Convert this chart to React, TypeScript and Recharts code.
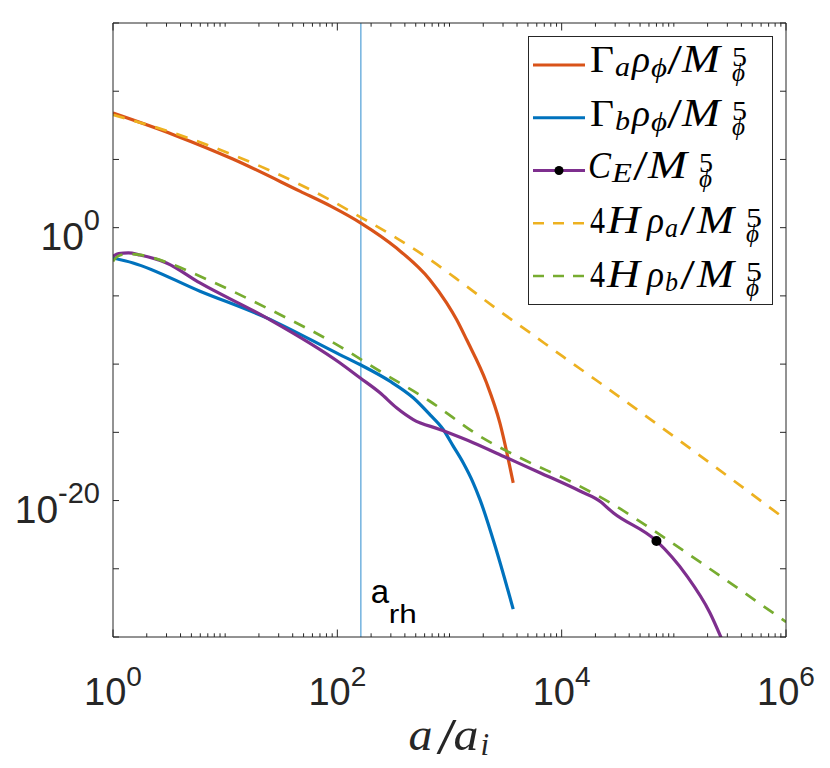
import React from "react";
import {
  ComposedChart,
  Line,
  XAxis,
  YAxis,
  ReferenceLine,
  ReferenceDot,
  Legend,
} from "recharts";

// Γ_a ρ_φ / M^5  (orange, solid)
const gammaAX = [1, 3.5, 11.7, 46.8, 89, 162, 337, 668, 942, 1156, 1420, 2138, 2812, 3698];
const gammaAY = [2.5e8, 6.3e6, 1.07e5, 457, 35, 2.19, 0.032, 1.55e-4, 3.1e-6, 1.86e-7, 6.3e-9, 4.3e-12, 5.0e-15, 2.0e-19];

// Γ_b ρ_φ / M^5  (blue, solid)
const gammaBX = [1, 1.51, 5.96, 23.4, 105, 159, 294, 475, 668, 879, 1079, 1324, 1626, 1866, 2630, 3698];
const gammaBY = [6.0e-3, 2.6e-3, 2.2e-5, 2.45e-7, 5.0e-10, 9.3e-11, 5.6e-12, 3.4e-13, 2.0e-14, 1.62e-15, 9.8e-17, 5.9e-18, 2.0e-19, 1.23e-20, 2.0e-24, 1.1e-28];

// C_E / M^5  (purple, solid)
const ceX = [1, 1.12, 1.37, 1.74, 3.0, 5.96, 23.4, 105, 159, 240, 337, 475, 820, 1626, 3228, 6397, 14520, 22400, 26300, 28800, 70000, 130000, 209000, 282000];
const ceY = [7.9e-3, 0.0126, 0.0141, 0.01, 2.6e-3, 8.9e-5, 2.45e-7, 1.26e-10, 1e-11, 7.9e-13, 6.3e-14, 8.7e-15, 1.62e-15, 1.74e-16, 1.38e-17, 1.1e-18, 5.0e-20, 7.9e-21, 2.4e-21, 1.3e-21, 1.1e-23, 3.16e-26, 6.3e-29, 2.5e-31];

// 4 H ρ_a / M^5  (yellow, dashed)
const rhoAX = [1, 3.5, 11.7, 46.8, 89, 162, 337, 668, 1318, 2630, 5212, 10300, 20500, 1e5, 1e6];
const rhoAY = [1.86e8, 8.5e6, 2.19e5, 1413, 93, 5.75, 0.174, 4.6e-3, 7.9e-5, 1.12e-6, 2.0e-8, 3.5e-10, 6.3e-12, 5.0e-16, 4.0e-22];

// 4 H ρ_b / M^5  (green, dashed)
const rhoBX = [1, 1.1, 1.32, 1.74, 3.16, 5.96, 23.4, 105, 240, 668, 1866, 4236, 12680, 26900, 75000, 209000, 1e6];
const rhoBY = [3.4e-3, 7.9e-3, 0.0117, 0.01, 2.5e-3, 2.75e-4, 1.32e-6, 2.0e-9, 3.0e-11, 1.9e-13, 5.2e-16, 1.38e-17, 2.0e-19, 7.1e-21, 3.16e-23, 1e-25, 1.26e-29];

// reheating scale and the marked point on C_E
const aRh = 162;
const markA = 70000;
const markC = 1.1e-23;

// axes
const xDecades = [1, 10, 100, 1e3, 1e4, 1e5, 1e6];
const xMinor = [2, 3, 4, 5, 6, 7, 8, 9];
const xLabelled = [1, 1e2, 1e4, 1e6];
const yTicks = [1e-30, 1e-25, 1e-20, 1e-15, 1e-10, 1e-5, 1, 1e5, 1e10, 1e15];
const yLabelled = [1e-20, 1];

const xTicks = xDecades.flatMap((d, i) =>
  i === xDecades.length - 1 ? [d] : [d, ...xMinor.map((m) => m * d)]
);

const toPoints = (xs: number[], ys: number[]) => xs.map((a, i) => ({ a, v: ys[i] }));

const ORANGE = "#D95319";
const BLUE = "#0072BD";
const PURPLE = "#7E2F8E";
const YELLOW = "#EDB120";
const GREEN = "#77AC30";
const VLINE = "#72B2DF";
const AXIS = "#262626";
const DASH = "12 10";

const sans = "'Liberation Sans', Arial, Helvetica, sans-serif";
const serif = "'Liberation Serif', 'DejaVu Serif', 'Times New Roman', serif";

const isIn = (list: number[], v: number) => list.some((l) => Math.abs(l - v) / l < 1e-9);
const expOf = (v: number) => Math.round(Math.log10(v));

const BottomTick = (props: any) => {
  const { x, y, payload } = props;
  const v = payload.value as number;
  const major = isIn(xLabelled, v);
  return (
    <g>
      <line x1={x} x2={x} y1={y} y2={y - (major ? 7.5 : 3.7)} stroke={AXIS} strokeWidth={1} />
      {major && (
        <text x={x} y={y + 68} textAnchor="middle" fill={AXIS} fontFamily={sans} fontSize={38}>
          10
          <tspan dy={-19} fontSize={28}>
            {expOf(v)}
          </tspan>
        </text>
      )}
    </g>
  );
};

const TopTick = (props: any) => {
  const { x, y, payload } = props;
  const major = isIn(xLabelled, payload.value);
  return <line x1={x} x2={x} y1={y} y2={y + (major ? 7.5 : 3.7)} stroke={AXIS} strokeWidth={1} />;
};

const LeftTick = (props: any) => {
  const { x, y, payload } = props;
  const v = payload.value as number;
  return (
    <g>
      <line x1={x} x2={x + 6} y1={y} y2={y} stroke={AXIS} strokeWidth={1} />
      {isIn(yLabelled, v) && (
        <text x={x - 13} y={y + 22} textAnchor="end" fill={AXIS} fontFamily={sans} fontSize={39}>
          10
          <tspan dy={-20} fontSize={29}>
            {String(expOf(v))}
          </tspan>
        </text>
      )}
    </g>
  );
};

const RightTick = (props: any) => {
  const { x, y } = props;
  return <line x1={x} x2={x - 6} y1={y} y2={y} stroke={AXIS} strokeWidth={1} />;
};

const XTitle = (props: any) => {
  const { x, y, width } = props.viewBox;
  const cx = x + width / 2;
  const base = y + 113;
  return (
    <g fill={AXIS} fontFamily={serif}>
      <text x={cx - 41} y={base} fontSize={47} fontStyle="italic" textLength={24} lengthAdjust="spacingAndGlyphs">a</text>
      <text x={cx - 13} y={base + 3} fontSize={50} textLength={20} lengthAdjust="spacingAndGlyphs">/</text>
      <text x={cx + 4} y={base} fontSize={47} fontStyle="italic" textLength={25} lengthAdjust="spacingAndGlyphs">a</text>
      <text x={cx + 31} y={base + 5} fontSize={31} fontStyle="italic">i</text>
    </g>
  );
};

const ArhLabel = (props: any) => {
  const { x, y, height } = props.viewBox;
  const base = y + height - 34;
  return (
    <g fill="#000" fontFamily={sans}>
      <text x={x + 10} y={base} fontSize={33}>a</text>
      <text x={x + 28} y={base + 20} fontSize={26} textLength={28} lengthAdjust="spacingAndGlyphs">rh</text>
    </g>
  );
};

// glyph pieces: [text, x, width, baseline shift, size, italic]
type G = [string, number, number, number, number, boolean];
const gammaRow = (s: string): G[] => [
  ["Γ", 62, 24, 0, 38, false],
  [s, 87, 15, 4, 27, true],
  ["ρ", 104, 18, 0, 38, true],
  ["ϕ", 123, 16, 5, 27, true],
  ["/", 139, 15, 2, 42, false],
  ["M", 154, 38, 0, 39, true],
  ["5", 204, 15, -6, 28, false],
  ["ϕ", 204, 13, 9, 26, true],
];
const hRow = (s: string): G[] => [
  ["4", 62, 15, 0, 38, false],
  ["H", 79, 33, 0, 39, true],
  ["ρ", 119, 17, 0, 38, true],
  [s, 137, 13, 4, 27, true],
  ["/", 152, 15, 2, 42, false],
  ["M", 169, 37, 0, 39, true],
  ["5", 218, 16, -6, 28, false],
  ["ϕ", 218, 13, 9, 26, true],
];
const legendRows = [
  { color: ORANGE, dash: false, dot: false, base: 7, glyphs: gammaRow("a") },
  { color: BLUE, dash: false, dot: false, base: 8, glyphs: gammaRow("b") },
  {
    color: PURPLE,
    dash: false,
    dot: true,
    base: 7.5,
    glyphs: [
      ["C", 60, 23, 0, 38, true],
      ["E", 84, 20, 4, 27, true],
      ["/", 105, 15, 2, 42, false],
      ["M", 120, 39, 0, 39, true],
      ["5", 171, 14, -6, 28, false],
      ["ϕ", 171, 13, 9, 26, true],
    ] as G[],
  },
  { color: YELLOW, dash: true, dot: false, base: 10, glyphs: hRow("a") },
  { color: GREEN, dash: true, dot: false, base: 10.5, glyphs: hRow("b") },
];

const LegendBox = () => (
  <svg width={246} height={270} style={{ display: "block" }}>
    <rect x={0.5} y={0.5} width={244} height={268} fill="#fff" stroke={AXIS} strokeWidth={1} />
    {legendRows.map((row, i) => {
      const cy = 29 + i * 52.75;
      return (
        <g key={i}>
          <line
            x1={5}
            x2={57}
            y1={cy}
            y2={cy}
            stroke={row.color}
            strokeWidth={row.dash ? 2.7 : 3.2}
            strokeDasharray={row.dash ? "11 9" : undefined}
          />
          {row.dot && <circle cx={31} cy={cy} r={4.5} fill="#000" />}
          {row.glyphs.map((g, j) => (
            <text
              key={j}
              x={g[1]}
              y={cy + row.base + g[3]}
              textLength={g[2]}
              lengthAdjust="spacingAndGlyphs"
              fontSize={g[4]}
              fontStyle={g[5] ? "italic" : "normal"}
              fontFamily={serif}
              fill="#000"
            >
              {g[0]}
            </text>
          ))}
        </g>
      );
    })}
  </svg>
);

const axisCommon = {
  type: "number" as const,
  scale: "log" as const,
  allowDataOverflow: true,
  interval: 0 as const,
  tickSize: 0,
  tickMargin: 0,
  tickLine: false,
  axisLine: { stroke: AXIS, strokeWidth: 1 },
};

export default function App() {
  return (
    <div style={{ position: "absolute", left: 0, top: 0, width: 830, height: 768, background: "#fff" }}>
      <ComposedChart width={830} height={768} margin={{ top: 22, right: 43, bottom: 0, left: 0 }}>
        <XAxis
          {...axisCommon}
          xAxisId="b"
          dataKey="a"
          domain={[1, 1e6]}
          ticks={xTicks}
          height={131}
          tick={(p: any) => <BottomTick {...p} />}
          label={(p: any) => <XTitle {...p} />}
        />
        <XAxis
          {...axisCommon}
          xAxisId="t"
          orientation="top"
          dataKey="a"
          domain={[1, 1e6]}
          ticks={xTicks}
          height={1}
          tick={(p: any) => <TopTick {...p} />}
        />
        <YAxis
          {...axisCommon}
          yAxisId="l"
          domain={[1e-30, 1e15]}
          ticks={yTicks}
          width={113}
          tick={(p: any) => <LeftTick {...p} />}
        />
        <YAxis
          {...axisCommon}
          yAxisId="r"
          orientation="right"
          domain={[1e-30, 1e15]}
          ticks={yTicks}
          width={1}
          tick={(p: any) => <RightTick {...p} />}
        />

        <ReferenceLine
          xAxisId="b"
          yAxisId="l"
          x={aRh}
          stroke={VLINE}
          strokeWidth={1.5}
          label={(p: any) => <ArhLabel {...p} />}
        />

        <Line xAxisId="b" yAxisId="l" data={toPoints(gammaAX, gammaAY)} dataKey="v" type="monotone" stroke={ORANGE} strokeWidth={3.2} dot={false} activeDot={false} isAnimationActive={false} />
        <Line xAxisId="b" yAxisId="l" data={toPoints(gammaBX, gammaBY)} dataKey="v" type="monotone" stroke={BLUE} strokeWidth={3.2} dot={false} activeDot={false} isAnimationActive={false} />
        <Line xAxisId="b" yAxisId="l" data={toPoints(ceX, ceY)} dataKey="v" type="monotone" stroke={PURPLE} strokeWidth={3.2} dot={false} activeDot={false} isAnimationActive={false} />
        <Line xAxisId="b" yAxisId="l" data={toPoints(rhoAX, rhoAY)} dataKey="v" type="monotone" stroke={YELLOW} strokeWidth={2.7} strokeDasharray={DASH} dot={false} activeDot={false} isAnimationActive={false} />
        <Line xAxisId="b" yAxisId="l" data={toPoints(rhoBX, rhoBY)} dataKey="v" type="monotone" stroke={GREEN} strokeWidth={2.7} strokeDasharray={DASH} dot={false} activeDot={false} isAnimationActive={false} />

        <ReferenceDot xAxisId="b" yAxisId="l" x={markA} y={markC} r={5} fill="#000" stroke="none" />

        <Legend
          layout="vertical"
          align="center"
          verticalAlign="middle"
          content={() => <LegendBox />}
          wrapperStyle={{ left: 528, top: 36, width: 246, height: 270 }}
        />
      </ComposedChart>
    </div>
  );
}
